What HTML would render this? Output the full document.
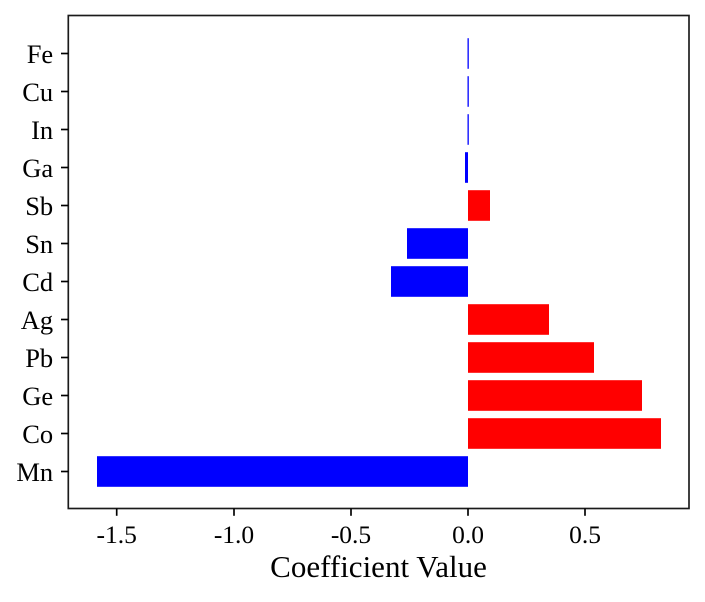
<!DOCTYPE html>
<html><head><meta charset="utf-8"><style>
html,body{margin:0;padding:0;background:#fff;}
svg{display:block;}
text{font-family:"Liberation Serif","Times New Roman",serif;fill:#000;}
</style></head><body>
<svg width="705" height="602" viewBox="0 0 705 602" xmlns="http://www.w3.org/2000/svg">
<rect width="705" height="602" fill="#fff"/>
<g>
<rect x="97" y="456.2" width="371" height="30.6" fill="#0000ff"/>
<rect x="468" y="418.2" width="193" height="30.6" fill="#ff0000"/>
<rect x="468" y="380.2" width="174" height="30.6" fill="#ff0000"/>
<rect x="468" y="342.2" width="126" height="30.6" fill="#ff0000"/>
<rect x="468" y="304.2" width="81" height="30.6" fill="#ff0000"/>
<rect x="391" y="266.2" width="77" height="30.6" fill="#0000ff"/>
<rect x="407" y="228.2" width="61" height="30.6" fill="#0000ff"/>
<rect x="468" y="190.2" width="22" height="30.6" fill="#ff0000"/>
<rect x="465" y="152.2" width="3" height="30.6" fill="#0000ff"/>
<rect x="467.5" y="114.2" width="1.3" height="30.6" fill="#0000ff"/>
<rect x="467.5" y="76.2" width="1.3" height="30.6" fill="#0000ff"/>
<rect x="467.5" y="38.2" width="1.3" height="30.6" fill="#0000ff"/>
</g>
<rect x="68.3" y="15.5" width="620.7" height="493" fill="none" stroke="#1a1a1a" stroke-width="1.67"/>
<g stroke="#000" stroke-width="1.67">
<line x1="61" y1="471.5" x2="68.3" y2="471.5"/>
<line x1="61" y1="433.5" x2="68.3" y2="433.5"/>
<line x1="61" y1="395.5" x2="68.3" y2="395.5"/>
<line x1="61" y1="357.5" x2="68.3" y2="357.5"/>
<line x1="61" y1="319.5" x2="68.3" y2="319.5"/>
<line x1="61" y1="281.5" x2="68.3" y2="281.5"/>
<line x1="61" y1="243.5" x2="68.3" y2="243.5"/>
<line x1="61" y1="205.5" x2="68.3" y2="205.5"/>
<line x1="61" y1="167.5" x2="68.3" y2="167.5"/>
<line x1="61" y1="129.5" x2="68.3" y2="129.5"/>
<line x1="61" y1="91.5" x2="68.3" y2="91.5"/>
<line x1="61" y1="53.5" x2="68.3" y2="53.5"/>
</g>
<g font-size="26.5" text-anchor="end">
<text x="53.2" y="481">Mn</text>
<text x="53.2" y="443">Co</text>
<text x="53.2" y="405">Ge</text>
<text x="53.2" y="367">Pb</text>
<text x="53.2" y="329">Ag</text>
<text x="53.2" y="291">Cd</text>
<text x="53.2" y="253">Sn</text>
<text x="53.2" y="215">Sb</text>
<text x="53.2" y="177">Ga</text>
<text x="53.2" y="139">In</text>
<text x="53.2" y="101">Cu</text>
<text x="53.2" y="63">Fe</text>
</g>
<g stroke="#000" stroke-width="1.67">
<line x1="116.7" y1="508.5" x2="116.7" y2="515.8"/>
<line x1="234" y1="508.5" x2="234" y2="515.8"/>
<line x1="351" y1="508.5" x2="351" y2="515.8"/>
<line x1="468" y1="508.5" x2="468" y2="515.8"/>
<line x1="585" y1="508.5" x2="585" y2="515.8"/>
</g>
<g font-size="25.5" text-anchor="middle">
<text x="116.7" y="543">-1.5</text>
<text x="234" y="543">-1.0</text>
<text x="351" y="543">-0.5</text>
<text x="468" y="543">0.0</text>
<text x="585" y="543">0.5</text>
</g>
<text x="378.5" y="577" font-size="31" text-anchor="middle">Coefficient Value</text>
</svg>
</body></html>
